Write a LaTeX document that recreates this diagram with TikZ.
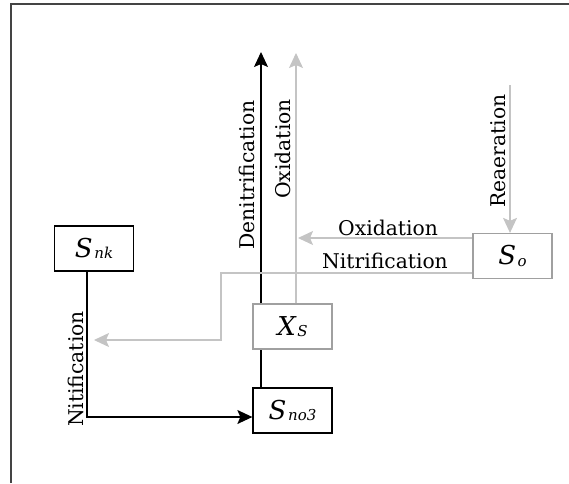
\documentclass[tikz,border=0pt]{standalone}
\usepackage{fontspec}
\setmainfont{DejaVu Serif}
\usetikzlibrary{arrows.meta}
\definecolor{lgray}{HTML}{C4C4C4}
\definecolor{bgray}{HTML}{A0A0A0}
\definecolor{fgray}{HTML}{444444}
\newcommand{\bigsym}[2]{{\fontsize{26}{26}\selectfont\itshape #1}\,\raisebox{-1.5pt}{\fontsize{15}{15}\selectfont\itshape #2}}
\begin{document}
\begin{tikzpicture}[x=1pt,y=-1pt,
  blackbox/.style={draw=black,line width=1.3pt,minimum width=79pt,minimum height=45pt,inner sep=0pt},
  graybox/.style={draw=bgray,line width=1.3pt,minimum width=79pt,minimum height=45pt,inner sep=0pt},
  blk/.style={draw=black,line width=1.3pt},
  gry/.style={draw=lgray,line width=1.1pt},
  blkarrow/.style={-{Stealth[length=15pt,width=14pt,inset=3pt]}},
  gryarrow/.style={-{Stealth[length=15pt,width=14pt,inset=3pt,fill=lgray]}},
  lbl/.style={font=\fontsize{20.3}{22}\selectfont,inner sep=0pt}]
\useasboundingbox (0,0) rectangle (569,483);
\fill[white] (0,0) rectangle (569,483);
% frame
\draw[fgray,line width=2pt] (10.7,483) -- (10.7,4) -- (569,4);
% boxes
\node[blackbox] (snk) at (94,248.5) {\bigsym{S}{nk}};
\node[blackbox] (sno3) at (292.5,410.5) {\bigsym{S}{no3}};
\node[graybox] (xs) at (292.5,326.5) {\bigsym{X}{S}};
\node[graybox] (so) at (512.5,256) {\bigsym{S}{o}};
% coordinates
\coordinate (dtop) at (261,52);
\coordinate (otop) at (296,53);
\coordinate (rtop) at (510,85);
\coordinate (oxend) at (298,238);
\coordinate (nb1) at (221,273);
\coordinate (nb2) at (221,340);
\coordinate (nend) at (94,340);
\coordinate (nk1) at (87,417);
% black connectors
\draw[blk] (sno3.north -| dtop) -- (xs.south -| dtop);
\draw[blk,blkarrow] (xs.north -| dtop) -- (dtop);
\draw[blk,blkarrow] (snk.south -| nk1) -- (nk1) -- (sno3.west |- nk1);
% gray connectors
\draw[gry,gryarrow] (xs.north -| otop) -- (otop);
\draw[gry,gryarrow] (rtop) -- (so.north -| rtop);
\draw[gry,gryarrow] (so.west |- oxend) -- (oxend);
\draw[gry,gryarrow] (so.west |- nb1) -- (nb1) -- (nb2) -- (nend);
% labels
\node[lbl,rotate=90] (l1) at (247,175) {Denitrification};
\node[lbl,rotate=90] (l2) at (283,149) {Oxidation};
\node[lbl,rotate=90] (l3) at (498,151) {Reaeration};
\node[lbl] (l4) at (388,228) {Oxidation};
\node[lbl] (l5) at (385,261) {Nitrification};
\node[lbl,rotate=90] (l6) at (76,369) {Nitification};
\end{tikzpicture}
\end{document}
